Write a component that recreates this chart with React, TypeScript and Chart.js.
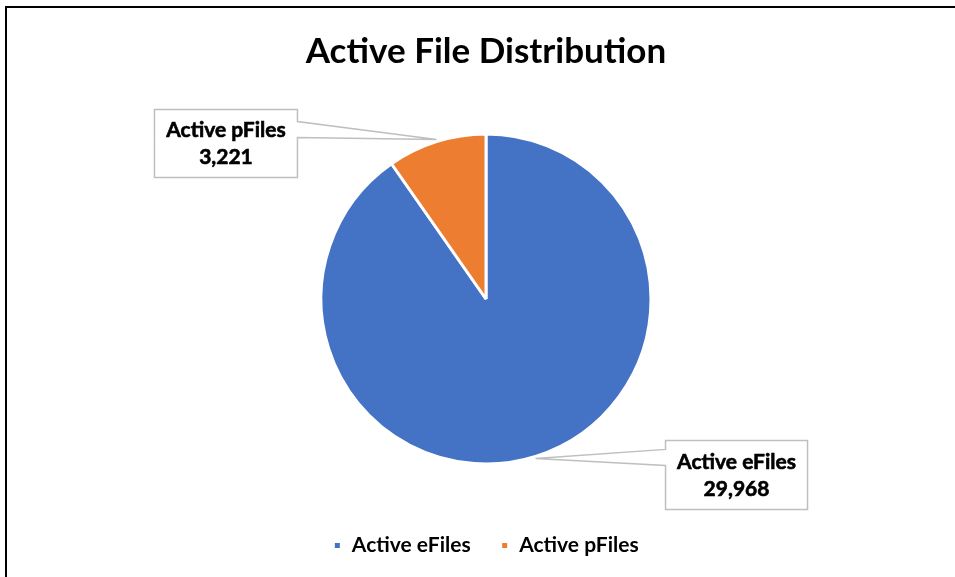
import React, { useEffect, useRef } from "react";
import { Chart, registerables } from "chart.js";

Chart.register(...registerables);

const TITLE = "Active File Distribution";
const CATEGORIES = ["Active eFiles", "Active pFiles"];
const VALUES = [29968, 3221];
const COLORS = ["#4472C4", "#ED7D31"];

const FONT = "Lato, 'Open Sans', sans-serif";

// callout box placement relative to the slice anchor (style only)
const CALLOUT_STYLE = [
  { side: "right", dx: 130, dy: -16, w: 142, h: 69, tailA: 9, tailB: 25 },
  { side: "left", dx: -139, dy: -32, w: 143, h: 68, tailA: 12, tailB: 28 },
];

const fmt = (v: number) => v.toLocaleString("en-US");

const framePlugin = {
  id: "frame",
  beforeDraw(chart: any) {
    const ctx = chart.ctx;
    ctx.save();
    ctx.fillStyle = "#fff";
    ctx.fillRect(0, 0, chart.width, chart.height);
    ctx.strokeStyle = "#000";
    ctx.lineWidth = 2;
    ctx.beginPath();
    ctx.moveTo(6, chart.height);
    ctx.lineTo(6, 7);
    ctx.lineTo(chart.width, 7);
    ctx.stroke();
    ctx.restore();
  },
};

const calloutPlugin = {
  id: "callouts",
  afterDatasetsDraw(chart: any) {
    const ctx = chart.ctx;
    const meta = chart.getDatasetMeta(0);
    meta.data.forEach((arc: any, i: number) => {
      const p = arc.getProps(["x", "y", "startAngle", "endAngle", "outerRadius"], true);
      const mid = (p.startAngle + p.endAngle) / 2;
      const ax = p.x + Math.cos(mid) * p.outerRadius;
      const ay = p.y + Math.sin(mid) * p.outerRadius;
      const s = CALLOUT_STYLE[i];
      const left = s.side === "right" ? ax + s.dx : ax + s.dx - s.w;
      const top = ay + s.dy;
      const right = left + s.w;
      const bottom = top + s.h;
      ctx.save();
      ctx.beginPath();
      if (s.side === "right") {
        ctx.moveTo(left, top);
        ctx.lineTo(right, top);
        ctx.lineTo(right, bottom);
        ctx.lineTo(left, bottom);
        ctx.lineTo(left, top + s.tailB);
        ctx.lineTo(ax, ay + 2);
        ctx.lineTo(left, top + s.tailA);
        ctx.closePath();
      } else {
        ctx.moveTo(left, top);
        ctx.lineTo(right, top);
        ctx.lineTo(right, top + s.tailA);
        ctx.lineTo(ax, ay - 2);
        ctx.lineTo(right, top + s.tailB);
        ctx.lineTo(right, bottom);
        ctx.lineTo(left, bottom);
        ctx.closePath();
      }
      ctx.fillStyle = "#fff";
      ctx.fill();
      ctx.strokeStyle = "#BFBFBF";
      ctx.lineWidth = 1.5;
      ctx.stroke();
      ctx.fillStyle = "#000";
      ctx.strokeStyle = "#000";
      ctx.lineWidth = 0.6;
      ctx.font = `bold 21px ${FONT}`;
      ctx.textAlign = "center";
      ctx.textBaseline = "middle";
      const cx = (left + right) / 2;
      const cy = (top + bottom) / 2;
      ctx.fillText(CATEGORIES[i], cx, cy - 13);
      ctx.strokeText(CATEGORIES[i], cx, cy - 13);
      ctx.fillText(fmt(VALUES[i]), cx, cy + 14);
      ctx.strokeText(fmt(VALUES[i]), cx, cy + 14);
      ctx.restore();
    });
  },
};

export default function App() {
  const ref = useRef<HTMLCanvasElement>(null);
  useEffect(() => {
    document.body.style.margin = "0";
    const chart = new Chart(ref.current!, {
      type: "pie",
      data: {
        labels: CATEGORIES,
        datasets: [
          {
            data: VALUES,
            backgroundColor: COLORS,
            borderColor: "#fff",
            borderWidth: 3,
          },
        ],
      },
      options: {
        responsive: false,
        animation: false,
        radius: 165,
        layout: { padding: { left: 20, right: 3, top: 0, bottom: 11 } },
        plugins: {
          title: {
            display: true,
            text: TITLE,
            color: "#000",
            font: { family: FONT, size: 35, weight: "bold" },
            padding: { top: 31, bottom: 20 },
          },
          legend: {
            display: true,
            position: "bottom",
            labels: {
              color: "#000",
              font: { family: FONT, size: 21, weight: "bold" },
              boxWidth: 8,
              boxHeight: 8,
              padding: 30,
            },
          },
          tooltip: { enabled: false },
        },
      },
      plugins: [framePlugin, calloutPlugin],
    });
    return () => chart.destroy();
  }, []);
  return (
    <div style={{ width: 955, height: 577 }}>
      <canvas ref={ref} width={955} height={577} style={{ display: "block" }} />
    </div>
  );
}
